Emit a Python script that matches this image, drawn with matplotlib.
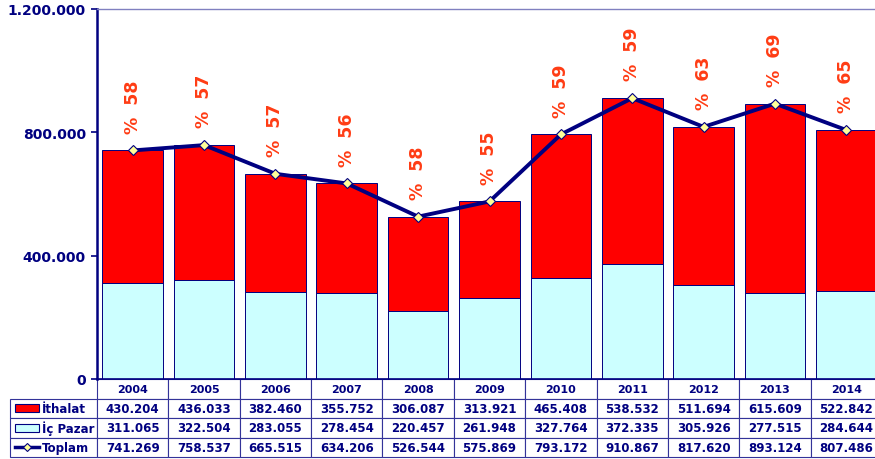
import matplotlib
matplotlib.use('Agg')
import matplotlib.pyplot as plt
from matplotlib.table import Table
from matplotlib.patches import Rectangle
from matplotlib.lines import Line2D

years = ['2004', '2005', '2006', '2007', '2008', '2009', '2010', '2011', '2012', '2013', '2014']
ithalat = [430204, 436033, 382460, 355752, 306087, 313921, 465408, 538532, 511694, 615609, 522842]
ic_pazar = [311065, 322504, 283055, 278454, 220457, 261948, 327764, 372335, 305926, 277515, 284644]
toplam = [741269, 758537, 665515, 634206, 526544, 575869, 793172, 910867, 817620, 893124, 807486]
pay = [58, 57, 57, 56, 58, 55, 59, 59, 63, 69, 65]
yticks = [0, 400000, 800000, 1200000]

NAVY = '#000080'
RED = '#FF0000'
CYAN = '#CCFFFF'
ORANGE = '#FF3C14'
GRID = '#333399'

plt.rcParams['font.family'] = ['DejaVu Sans']

fig = plt.figure(figsize=(8.75, 4.6), dpi=100)
# axes runs past the right edge, the original is cropped there
ax = fig.add_axes([97 / 875, 80 / 460, 785 / 875, 370 / 460])

x = list(range(len(years)))
ax.bar(x, ic_pazar, width=0.85, color=CYAN, edgecolor=NAVY, linewidth=0.7, zorder=2)
ax.bar(x, ithalat, width=0.85, bottom=ic_pazar, color=RED, edgecolor=NAVY, linewidth=0.7, zorder=2)
ax.plot(x, toplam, color=NAVY, lw=2.8, marker='D', ms=5.5, mfc='#FFFF99', mec=NAVY, mew=0.8, zorder=3)

for xi, t, p in zip(x, toplam, pay):
    ax.annotate('%%  %d' % p, (xi, t), xytext=(0, 32), textcoords='offset points',
                ha='center', va='center', rotation=90, color=ORANGE,
                fontsize=12.5, fontweight='bold')

ax.set_xlim(-0.5, len(years) - 0.5)
ax.set_ylim(0, 1200000)
ax.set_yticks(yticks)
ax.set_yticklabels([f'{v:,.0f}'.replace(',', '.') for v in yticks])
ax.set_xticks([])
ax.tick_params(axis='y', direction='out', length=4, width=1.2, color=NAVY,
               labelcolor=NAVY, labelsize=10, pad=4)
for lab in ax.get_yticklabels():
    lab.set_fontweight('bold')

ax.spines['left'].set_color(NAVY)
ax.spines['left'].set_linewidth(1.8)
ax.spines['bottom'].set_color(NAVY)
ax.spines['bottom'].set_linewidth(1.2)
ax.spines['top'].set_color('#8080C0')
ax.spines['top'].set_linewidth(1.0)
ax.spines['right'].set_visible(False)

# data table under the chart (bbox covers the year columns, label column sits left of it)
rowh = 78 / 370 / 4
labw = 87 / 785
colw = 1 / len(years)
tab = Table(ax, bbox=[0, -4 * rowh, 1, 4 * rowh])
for j, yr in enumerate(years):
    c = tab.add_cell(0, j, colw, rowh, text=yr, loc='center', edgecolor=GRID)
    c.get_text().set_fontsize(8)
rows = [ithalat, ic_pazar, toplam]
for i, vals in enumerate(rows, start=1):
    tab.add_cell(i, -1, labw, rowh, text='', edgecolor=GRID)
    for j, v in enumerate(vals):
        c = tab.add_cell(i, j, colw, rowh, text=f'{v:,.0f}'.replace(',', '.'),
                         loc='center', edgecolor=GRID)
        c.get_text().set_fontsize(8.5)
tab.auto_set_font_size(False)
for cell in tab.get_celld().values():
    cell.set_linewidth(0.8)
    cell.get_text().set_color(NAVY)
    cell.get_text().set_fontweight('bold')
ax.add_table(tab)

# row labels with legend keys
names = ['İthalat', 'İç Pazar', 'Toplam']
kx0 = (15 - 97) / 785
kx1 = (39 - 97) / 785
kh = 8 / 370
for i, name in enumerate(names, start=1):
    yc = -(i + 0.5) * rowh
    ax.text((42 - 97) / 785, yc, name, transform=ax.transAxes, ha='left', va='center',
            color=NAVY, fontsize=8.5, fontweight='bold', clip_on=False)
    if i == 3:
        ax.add_line(Line2D([kx0, kx1], [yc, yc], transform=ax.transAxes, color=NAVY, lw=2.5,
                           clip_on=False))
        ax.add_line(Line2D([(kx0 + kx1) / 2], [yc], transform=ax.transAxes, marker='D', ms=4,
                           mfc='#FFFF99', mec=NAVY, mew=0.8, clip_on=False))
    else:
        ax.add_patch(Rectangle((kx0, yc - kh / 2), kx1 - kx0, kh, transform=ax.transAxes,
                               facecolor=RED if i == 1 else CYAN, edgecolor=NAVY, lw=0.8,
                               clip_on=False))

fig.savefig('out.png', dpi=100)
